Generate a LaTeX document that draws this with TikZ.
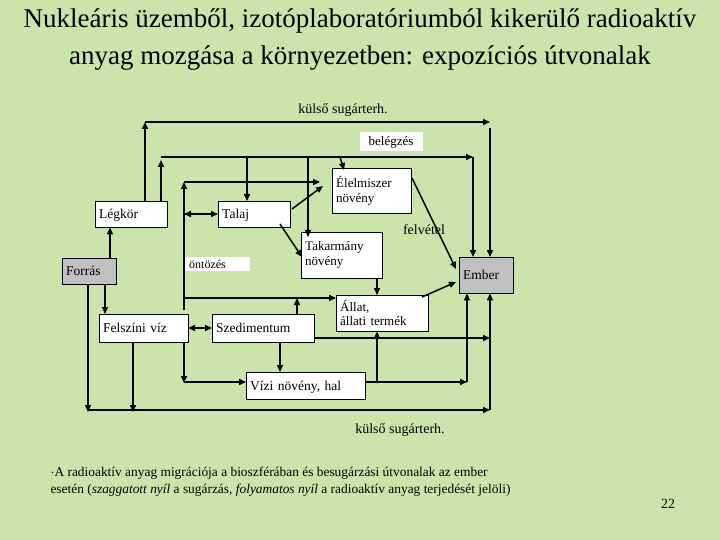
\documentclass[tikz,border=0pt]{standalone}
\usepackage{fontspec}
\setmainfont{Liberation Serif}
\definecolor{BgGreen}{RGB}{202,228,172}
\definecolor{BoxGray}{RGB}{192,192,192}
\usetikzlibrary{arrows.meta, positioning, calc}
\tikzset{
  mbox/.style={draw, fill=white, inner sep=2pt, font=\fontsize{13}{15}\selectfont, anchor=north west, align=left},
  box/.style={mbox, font=\fontsize{13.5}{15}\selectfont, text depth=0pt},
  gbox/.style={box, fill=BoxGray},
  arr/.style={line width=1.5pt, -{Triangle[length=7pt, width=6pt]}},
  darr/.style={line width=1.5pt, {Triangle[length=7pt, width=6pt]}-{Triangle[length=7pt, width=6pt]}}
}
\begin{document}
\begin{tikzpicture}[x=1pt, y=-1pt]
  \fill[BgGreen] (0,0) rectangle (720,540);
  \useasboundingbox (0,0) rectangle (720,540);

  % title
  \node[align=center, font=\fontsize{27}{37}\selectfont] (title) at (360,40) {Nukleáris üzemből, izotóplaboratóriumból kikerülő radioaktív\\anyag mozgása a környezetben: expozíciós útvonalak};

  % boxes
  \node[box, minimum width=72pt, minimum height=26pt, text width=64pt] (legkor) at (95,201) {Légkör};
  \node[gbox, minimum width=54pt, minimum height=26pt, text width=46pt] (forras) at (62,258) {Forrás};
  \node[box, minimum width=72pt, minimum height=26pt, text width=64pt] (talaj) at (218,201) {Talaj};
  \node[mbox, minimum width=79pt, minimum height=45pt, text width=71pt] (elelm) at (332,168) {Élelmiszer\\növény};
  \node[mbox, minimum width=81pt, minimum height=46pt, text width=73pt] (takarm) at (301,232) {Takarmány\\növény};
  \node[gbox, minimum width=54pt, minimum height=36pt, text width=46pt] (ember) at (459,257) {Ember};
  \node[box, minimum width=89pt, minimum height=28pt, text width=81pt] (felsz) at (99,314) {Felszíni víz};
  \node[box, minimum width=102pt, minimum height=28pt, text width=94pt] (szed) at (212,314) {Szedimentum};
  \node[mbox, minimum width=92pt, minimum height=36pt, text width=84pt, font=\fontsize{13}{14}\selectfont] (allat) at (336,295) {Állat,\\állati termék};
  \node[box, minimum width=119pt, minimum height=27pt, text width=111pt] (vizi) at (246,372) {Vízi növény, hal};

  % labels
  \node[font=\fontsize{14}{15}\selectfont] (kulsotop) at (343,110) {külső sugárterh.};
  \node[fill=white, minimum width=63pt, minimum height=19pt, font=\fontsize{13}{14}\selectfont] (belegz) at (391,142) {belégzés};
  \node[fill=white, minimum width=65pt, minimum height=14pt, font=\fontsize{12}{13}\selectfont, anchor=west, text width=57pt, inner sep=2pt] (ontoz) at (185,264) {öntözés};
  \node[font=\fontsize{14}{15}\selectfont] (felvetel) at (424,230) {felvétel};
  \node[font=\fontsize{14}{15}\selectfont] (kulsobot) at (400,430) {külső sugárterh.};

  % outer radiation, top
  \draw[arr] (145,201) -- (145,122);
  \draw[arr] (145,122) -- (490,122);
  \draw[arr] (490,128) -- (ember.north -| 490,0);
  % inhalation
  \draw[arr] (161,201) -- (161,160);
  \draw[arr] (161,157) -- (473,157);
  \draw[arr] (473,157) -- (ember.north -| 473,0);
  \draw[arr] (247,157) -- (talaj.north -| 247,0);
  \draw[arr] (308,157) -- (308,237);
  \draw[arr] (340,157) -- (344,170);
  % source
  \draw[arr] (110,258) -- (legkor.south -| 110,0);
  \draw[arr] (105,284) -- (felsz.north -| 105,0);
  \draw[arr] (88,284) -- (88,412);
  \draw[arr] (133,342) -- (133,412);
  \draw[arr] (88,410) -- (490,410);
  \draw[arr] (490,410) -- (ember.south -| 490,0);
  % irrigation
  \draw[arr] (184,310) -- (184,182);
  \draw[arr] (184,182) -- (320,182);
  \draw[darr] (184,214) -- (talaj.west |- 0,214);
  \draw[arr] (184,298) -- (allat.west |- 0,298);
  \draw[arr] (297,314) -- (297,298);
  % water
  \draw[darr] (188,328) -- (szed.west |- 0,328);
  \draw[arr] (184,342) -- (184,383);
  \draw[arr] (184,382) -- (vizi.west |- 0,382);
  \draw[arr] (280,342) -- (vizi.north -| 280,0);
  \draw[arr] (314,338) -- (490,338);
  \draw[arr] (365,382) -- (467,382);
  \draw[arr] (467,382) -- (ember.south -| 467,0);
  \draw[arr] (377,382) -- (allat.south -| 377,0);
  % plants and animals
  \draw[arr] (292,209) -- (323,186);
  \draw[arr] (280,224) -- (302,257);
  \draw[arr] (377,278) -- (allat.north -| 377,0);
  \draw[arr] (412,178) -- (456,269);
  \draw[arr] (422,297) -- (456,282);

  % note
  \node[anchor=north west, align=left, font=\fontsize{13.4}{17}\selectfont] (note) at (47,464) {$\cdot$A radioaktív anyag migrációja a bioszférában és besugárzási útvonalak az ember\\esetén (\textit{szaggatott nyíl} a sugárzás, \textit{folyamatos nyíl} a radioaktív anyag terjedését jelöli)};
  \node[font=\fontsize{14}{15}\selectfont] (page) at (668,504) {22};
\end{tikzpicture}
\end{document}
